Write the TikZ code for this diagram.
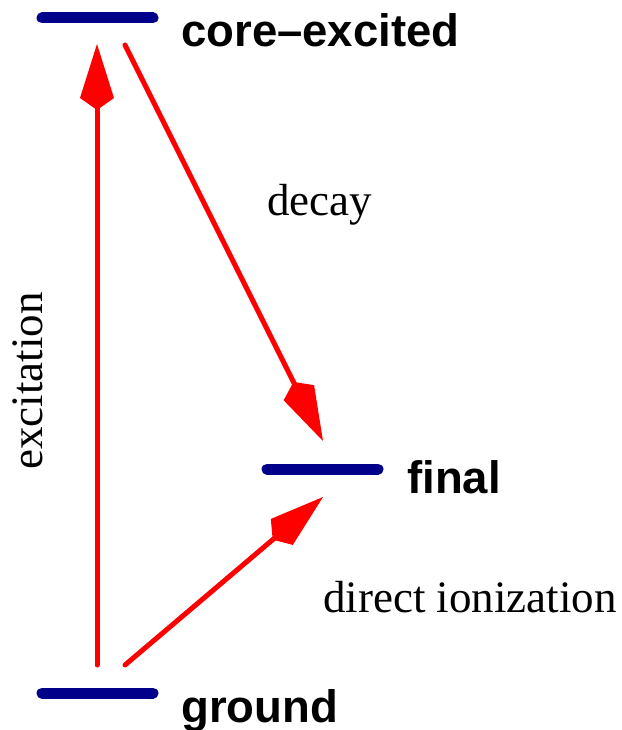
\documentclass[tikz,border=0pt]{standalone}
\usepackage{fontspec}
\setmainfont{Liberation Serif}
\setsansfont{Liberation Sans}
\usetikzlibrary{arrows.meta}
\definecolor{levelblue}{RGB}{0,0,139}
\definecolor{arrred}{RGB}{255,0,0}
\tikzset{
  level/.style={draw=levelblue, line width=11pt, line cap=round},
  trans/.style={draw=arrred, line width=5pt, line cap=round,
    -{Kite[length=66pt, width=34pt, inset=12pt, fill=arrred, line width=0pt]}},
  lvllabel/.style={font=\sffamily\bfseries\fontsize{45.5}{50}\selectfont, anchor=base west, inner sep=0pt},
  trlabel/.style={font=\rmfamily\fontsize{45}{50}\selectfont, anchor=base west, inner sep=0pt}
}
\begin{document}
\begin{tikzpicture}[x=1pt, y=-1pt]
\useasboundingbox (0,0) rectangle (621,730);
% levels
\coordinate (ce1) at (42,18);  \coordinate (ce2) at (153,18);
\coordinate (f1) at (267,469); \coordinate (f2) at (378,469);
\coordinate (g1) at (42,693);  \coordinate (g2) at (153,693);
\draw[level] (ce1) -- (ce2);
\draw[level] (f1) -- (f2);
\draw[level] (g1) -- (g2);
% arrow end points
\coordinate (exA) at (97,665);  \coordinate (exB) at (97,44);
\coordinate (deA) at (125,45);  \coordinate (deB) at (323,441);
\coordinate (diA) at (125,665); \coordinate (diB) at (323,497);
\draw[trans] (exA) -- (exB);
\draw[trans] (deA) -- (deB);
\draw[trans] (diA) -- (diB);
% labels
\node[lvllabel] (lce) at (181,47) {core\textendash excited};
\node[lvllabel] (lf) at (407,493) {final};
\node[lvllabel] (lg) at (181,722) {ground};
\node[trlabel] (ldec) at (267,215) {decay};
\node[trlabel] (ldi) at (323,612) {direct ionization};
\node[trlabel, rotate=90] (lex) at (42,470) {excitation};
\end{tikzpicture}
\end{document}
